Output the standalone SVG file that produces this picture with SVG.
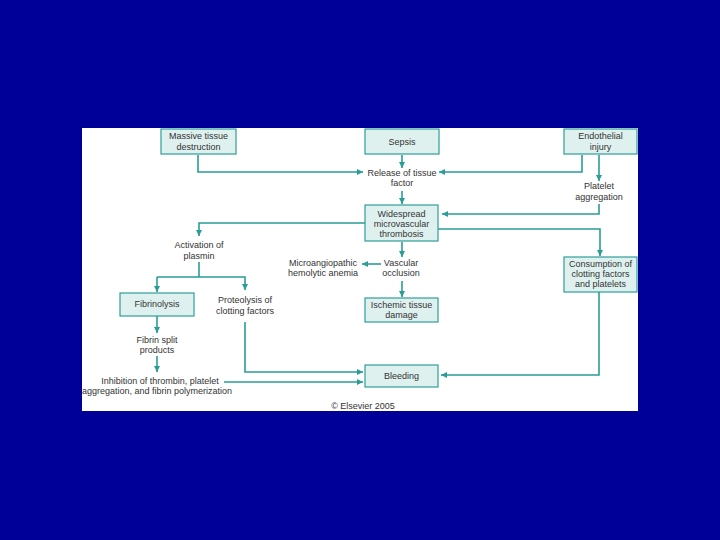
<svg xmlns="http://www.w3.org/2000/svg" width="720" height="540" viewBox="0 0 720 540">
<defs>
<marker id="ah" viewBox="0 0 10 10" refX="10" refY="5" markerWidth="6" markerHeight="6" markerUnits="userSpaceOnUse" orient="auto">
<path d="M0,0 L10,5 L0,10 z" fill="#2a9d96"/>
</marker>
<style>
.box{fill:#dff1ef;stroke:#2e9f98;stroke-width:1.2}
.t{font-family:"Liberation Sans",Arial,sans-serif;font-size:9px;fill:#333;text-anchor:middle}
.c{fill:none;stroke:#2a9d96;stroke-width:1.6}
.a{marker-end:url(#ah)}
</style>
</defs>
<rect x="0" y="0" width="720" height="540" fill="#000099"/>
<rect x="82" y="128" width="556" height="283" fill="#ffffff"/>

<g id="connectors">
<path class="c a" d="M198,155 V172 H363"/>
<path class="c a" d="M402,155 V168"/>
<path class="c a" d="M582,155 V172 H439"/>
<path class="c a" d="M599,155 V181"/>
<path class="c a" d="M402,191 V204"/>
<path class="c a" d="M599,204 V214 H442"/>
<path class="c a" d="M365,223 H199 V236"/>
<path class="c a" d="M437,229 H600 V256"/>
<path class="c a" d="M402,242 V257"/>
<path class="c" d="M199,262 V277"/>
<path class="c a" d="M157,277 H245 V290"/>
<path class="c a" d="M157,277 V292"/>
<path class="c a" d="M381,264 H362"/>
<path class="c a" d="M402,281 V297"/>
<path class="c a" d="M157,316 V333"/>
<path class="c a" d="M157,356 V372"/>
<path class="c a" d="M245,322 V372 H363"/>
<path class="c a" d="M224,382 H363"/>
<path class="c a" d="M599,292 V375 H441"/>
</g>

<g id="massive">
<rect class="box" x="161" y="129" width="75" height="25"/>
<text class="t" x="198.5" y="139">Massive tissue</text>
<text class="t" x="198.5" y="150">destruction</text>
</g>
<g id="sepsis">
<rect class="box" x="365" y="129" width="74" height="25"/>
<text class="t" x="402" y="145">Sepsis</text>
</g>
<g id="endothelial">
<rect class="box" x="564" y="129" width="73" height="25"/>
<text class="t" x="600.5" y="139">Endothelial</text>
<text class="t" x="600.5" y="150">injury</text>
</g>
<g id="release">
<text class="t" x="402" y="176">Release of tissue</text>
<text class="t" x="402" y="186">factor</text>
</g>
<g id="platelet">
<text class="t" x="599" y="189">Platelet</text>
<text class="t" x="599" y="200">aggregation</text>
</g>
<g id="widespread">
<rect class="box" x="365" y="205" width="73" height="36"/>
<text class="t" x="401.5" y="217">Widespread</text>
<text class="t" x="401.5" y="227">microvascular</text>
<text class="t" x="401.5" y="237">thrombosis</text>
</g>
<g id="plasmin">
<text class="t" x="199" y="248">Activation of</text>
<text class="t" x="199" y="259">plasmin</text>
</g>
<g id="micro">
<text class="t" x="323" y="266">Microangiopathic</text>
<text class="t" x="323" y="276">hemolytic anemia</text>
</g>
<g id="vascular">
<text class="t" x="401" y="266">Vascular</text>
<text class="t" x="401" y="276">occlusion</text>
</g>
<g id="consumption">
<rect class="box" x="564" y="257" width="73" height="35"/>
<text class="t" x="600.5" y="267">Consumption of</text>
<text class="t" x="600.5" y="277">clotting factors</text>
<text class="t" x="600.5" y="287">and platelets</text>
</g>
<g id="fibrinolysis">
<rect class="box" x="120" y="293" width="74" height="23"/>
<text class="t" x="157" y="307">Fibrinolysis</text>
</g>
<g id="proteolysis">
<text class="t" x="245" y="303">Proteolysis of</text>
<text class="t" x="245" y="314">clotting factors</text>
</g>
<g id="ischemic">
<rect class="box" x="365" y="298" width="73" height="24"/>
<text class="t" x="401.5" y="308">Ischemic tissue</text>
<text class="t" x="401.5" y="318">damage</text>
</g>
<g id="fibrin">
<text class="t" x="157" y="343">Fibrin split</text>
<text class="t" x="157" y="353">products</text>
</g>
<g id="inhibition">
<text class="t" x="160" y="384">Inhibition of thrombin, platelet</text>
<text class="t" x="157" y="394">aggregation, and fibrin polymerization</text>
</g>
<g id="bleeding">
<rect class="box" x="365" y="365" width="73" height="22"/>
<text class="t" x="401.5" y="379">Bleeding</text>
</g>
<text class="t" x="363" y="409">© Elsevier 2005</text>
</svg>
